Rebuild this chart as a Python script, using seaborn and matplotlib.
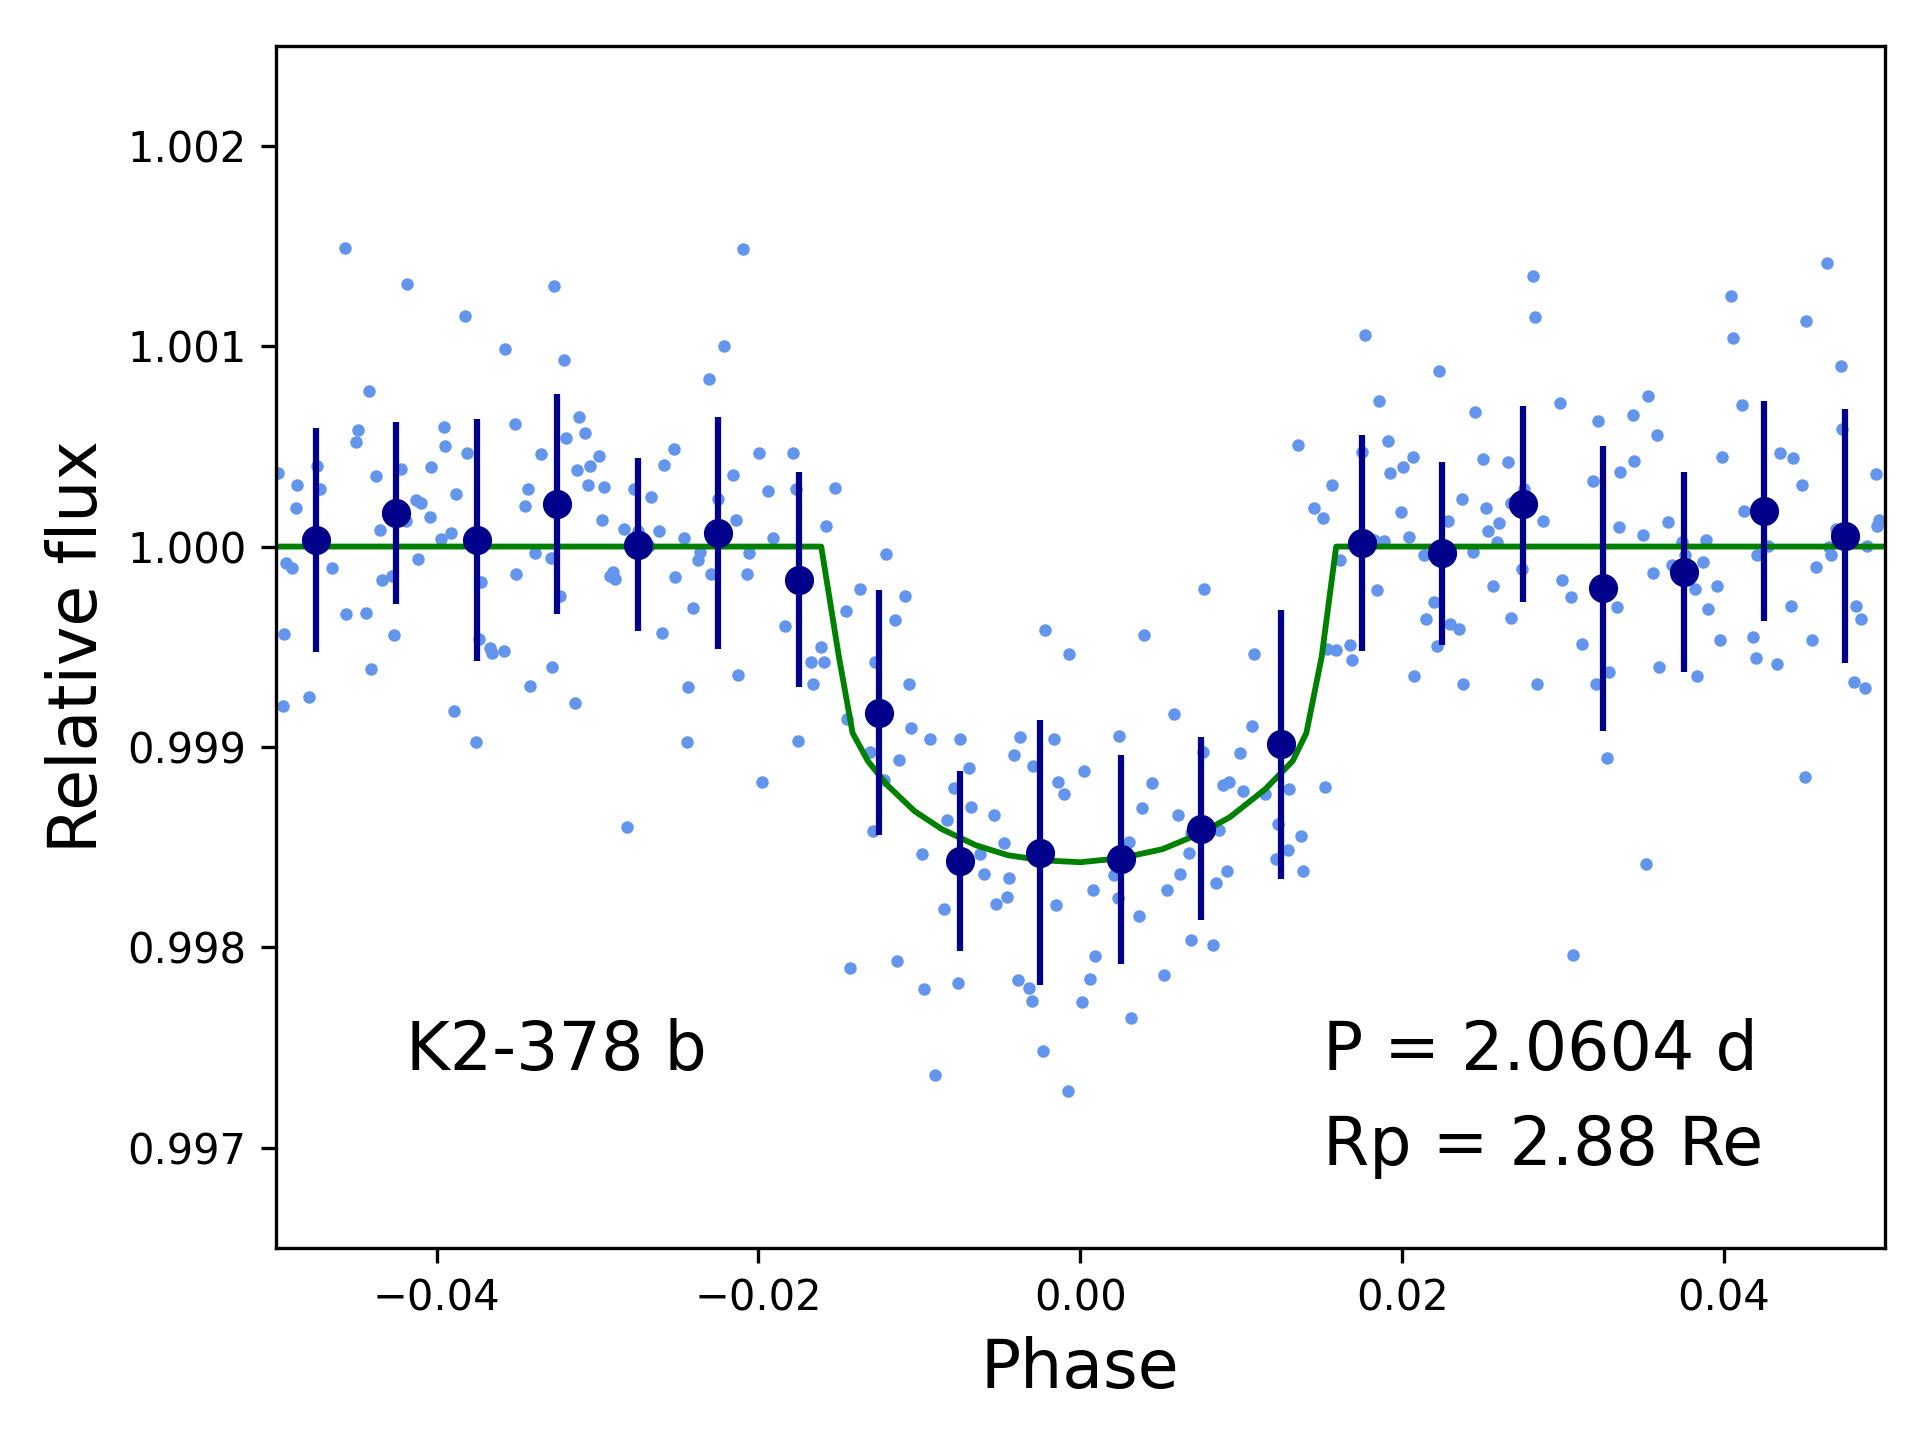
import numpy as np
import pandas as pd
import matplotlib
matplotlib.use("Agg")
import matplotlib.pyplot as plt
import seaborn as sns

# Pontos individuais (fase, fluxo relativo)
fase_pontos = [
    -0.04986, -0.04568, -0.04182, -0.03822, -0.03573, -0.04419, -0.04487, -0.04500, -0.04742, -0.04723,
    -0.04866, -0.04872, -0.04375, -0.04220, -0.04033, -0.03957, -0.03946, -0.03809, -0.03511, -0.03350,
    -0.03430, -0.03449, -0.03878, -0.04131, -0.04099, -0.04039, -0.04189, -0.04350, -0.03909, -0.03971,
    -0.04114, -0.04939, -0.04899, -0.04651, -0.04338, -0.04280, -0.03722, -0.03505, -0.03387, -0.04561,
    -0.04437, -0.04263, -0.04947, -0.03735, -0.03669, -0.03654, -0.03584, -0.04406, -0.04791, -0.04957,
    -0.03890, -0.03754, -0.03418,
    -0.03268, -0.03206, -0.02094, -0.02212, -0.02305, -0.03113, -0.03076, -0.03194, -0.02989, -0.03045,
    -0.03125, -0.03057, -0.02958, -0.02527, -0.02585, -0.02771, -0.02666, -0.02970, -0.02833, -0.02746,
    -0.02616, -0.02678, -0.02460, -0.02363, -0.02373, -0.03291, -0.03231, -0.02924, -0.02889, -0.02904,
    -0.02516, -0.02293, -0.02405, -0.02597, -0.03281, -0.03138, -0.02249, -0.02156, -0.02137, -0.02056,
    -0.02069, -0.01996, -0.01938, -0.01907, -0.01783, -0.01764, -0.01833, -0.02125, -0.02436, -0.02442,
    -0.01752, -0.01976, -0.02819,
    -0.01525, -0.01581, -0.01208, -0.01368, -0.01457, -0.01090, -0.01152, -0.01612, -0.01672, -0.01594,
    -0.01664, -0.01277, -0.01065, -0.01451, -0.01053, -0.01308, -0.01128, -0.01217, -0.00935, -0.00748,
    -0.01287, -0.00692, -0.00782, -0.00680, -0.00829, -0.00537, -0.00985, -0.00624, -0.00475, -0.00599,
    -0.00444, -0.00525, -0.00454, -0.00848, -0.00376, -0.00413, -0.00293, -0.00220, -0.00071, -0.00164,
    -0.00139, -0.00102, -0.00152, -0.01432, -0.01140, -0.00972, -0.00761, -0.00388, -0.00320, -0.00301,
    -0.00233, -0.00904, -0.00077,
    0.01352, 0.01563, 0.01451, 0.01509, 0.01611, 0.00768, 0.00395, 0.01078, 0.01532, 0.01590,
    0.00581, 0.01066, 0.00239, 0.00024, 0.00762, 0.00992, 0.00447, 0.00886, 0.00923, 0.01010,
    0.01147, 0.01294, 0.01520, 0.00382, 0.00606, 0.01230, 0.01371, 0.00302, 0.00677, 0.00685,
    0.00861, 0.01290, 0.01215, 0.01383, 0.00208, 0.00233, 0.00078, 0.00538, 0.00619, 0.00844,
    0.00911, 0.00364, 0.00687, 0.00824, 0.00090, 0.00059, 0.00012, 0.00519, 0.00314,
    0.01768, 0.02228, 0.01855, 0.01911, 0.01753, 0.01923, 0.02004, 0.02066, 0.01991, 0.02041,
    0.01888, 0.01826, 0.01842, 0.01677, 0.01689, 0.02072, 0.02134, 0.02197, 0.02147, 0.02215,
    0.02296, 0.02354, 0.02377, 0.02284, 0.02371, 0.02451, 0.02501, 0.02520, 0.02532, 0.02601,
    0.02588, 0.02439, 0.02563, 0.02656, 0.02756, 0.02679, 0.02743, 0.02675, 0.02812, 0.02824,
    0.02874, 0.02837, 0.02980, 0.02992, 0.03048, 0.03116, 0.03060, 0.03185, 0.03216, 0.03203,
    0.03284, 0.03272, 0.03334, 0.03348, 0.03355,
    0.03530, 0.03437, 0.03586, 0.03443, 0.03499, 0.03653, 0.03742, 0.03756, 0.03891, 0.03872,
    0.03677, 0.03561, 0.03822, 0.03959, 0.03901, 0.03978, 0.03599, 0.03835, 0.03518, 0.04046,
    0.04059, 0.04115, 0.03990, 0.04127, 0.04208, 0.04276, 0.04179, 0.04202, 0.04332, 0.04419,
    0.04351, 0.04431, 0.04487, 0.04512, 0.04643, 0.04730, 0.04736, 0.04550, 0.04574, 0.04506,
    0.04695, 0.04655, 0.04668, 0.04891, 0.04947, 0.04966, 0.04954, 0.04823, 0.04854, 0.04811,
    0.04879,
]
fluxo_pontos = [
    1.000367, 1.001489, 1.001310, 1.001150, 1.000987, 1.000778, 1.000584, 1.000523, 1.000401, 1.000287,
    1.000306, 1.000192, 1.000352, 1.000386, 1.000395, 1.000599, 1.000504, 1.000466, 1.000614, 1.000464,
    1.000287, 1.000202, 1.000260, 1.000232, 1.000217, 1.000146, 1.000129, 1.000084, 1.000068, 1.000036,
    0.999937, 0.999920, 0.999894, 0.999892, 0.999835, 0.999854, 0.999825, 0.999865, 0.999966, 0.999662,
    0.999671, 0.999561, 0.999565, 0.999540, 0.999496, 0.999468, 0.999481, 0.999388, 0.999247, 0.999207,
    0.999179, 0.999025, 0.999306,
    1.001298, 1.000932, 1.001483, 1.001002, 1.000837, 1.000648, 1.000565, 1.000540, 1.000451, 1.000401,
    1.000380, 1.000306, 1.000297, 1.000489, 1.000405, 1.000287, 1.000245, 1.000133, 1.000089, 1.000076,
    1.000078, 1.000004, 1.000044, 0.999973, 0.999932, 0.999943, 0.999755, 0.999852, 0.999838, 0.999871,
    0.999850, 0.999865, 0.999694, 0.999570, 0.999397, 0.999217, 1.000236, 1.000356, 1.000133, 0.999968,
    0.999865, 1.000466, 1.000276, 1.000044, 1.000466, 1.000287, 0.999606, 0.999361, 0.999297, 0.999025,
    0.999030, 0.998823, 0.998599,
    1.000291, 1.000101, 0.999961, 0.999787, 0.999678, 0.999754, 0.999634, 0.999499, 0.999424, 0.999424,
    0.999315, 0.999424, 0.999315, 0.999141, 0.999094, 0.998976, 0.998934, 0.998836, 0.999041, 0.999041,
    0.998582, 0.998895, 0.998794, 0.998702, 0.998635, 0.998660, 0.998467, 0.998467, 0.998523, 0.998364,
    0.998347, 0.998215, 0.998252, 0.998193, 0.999052, 0.998959, 0.998906, 0.999583, 0.999466, 0.999041,
    0.998825, 0.998766, 0.998213, 0.997899, 0.997930, 0.997793, 0.997821, 0.997838, 0.997799, 0.997734,
    0.997485, 0.997365, 0.997284,
    1.000509, 1.000308, 1.000190, 1.000143, 0.999933, 0.999787, 0.999558, 0.999463, 0.999488, 0.999483,
    0.999164, 0.999105, 0.999055, 0.998881, 0.998976, 0.998971, 0.998822, 0.998811, 0.998825, 0.998780,
    0.998766, 0.998792, 0.998800, 0.998697, 0.998660, 0.998615, 0.998557, 0.998526, 0.998473, 0.998571,
    0.998585, 0.998487, 0.998442, 0.998383, 0.998361, 0.998249, 0.998285, 0.998288, 0.998364, 0.998322,
    0.998383, 0.998159, 0.998039, 0.998011, 0.997955, 0.997843, 0.997729, 0.997863, 0.997648,
    1.001058, 1.000874, 1.000725, 1.000529, 1.000471, 1.000365, 1.000396, 1.000449, 1.000171, 1.000046,
    1.000029, 1.000034, 0.999783, 0.999510, 0.999435, 0.999355, 0.999957, 0.999722, 0.999638, 0.999502,
    0.999616, 0.999587, 0.999314, 1.000130, 1.000237, 1.000669, 1.000435, 1.000191, 1.000077, 1.000116,
    1.000024, 0.999971, 0.999802, 1.000420, 1.000285, 1.000217, 0.999886, 0.999643, 1.001348, 1.001143,
    1.000126, 0.999314, 1.000715, 0.999831, 0.999749, 0.999514, 0.997964, 1.000326, 1.000626, 0.999314,
    0.999374, 0.998944, 0.999698, 1.000097, 1.000370,
    1.000749, 1.000655, 1.000556, 1.000425, 1.000060, 1.000121, 1.000024, 0.999957, 1.000034, 0.999923,
    0.999908, 0.999867, 0.999787, 0.999802, 0.999688, 0.999534, 0.999399, 0.999355, 0.998418, 1.001251,
    1.001039, 1.000705, 1.000449, 1.000179, 0.999957, 1.000005, 0.999548, 0.999444, 0.999413, 0.999703,
    1.000466, 1.000444, 1.000307, 1.001123, 1.001413, 1.000899, 1.000585, 0.999534, 0.999896, 0.998850,
    1.000087, 1.000000, 0.999957, 1.000005, 1.000360, 1.000135, 1.000101, 0.999703, 0.999638, 0.999324,
    0.999295,
]

# Pontos agrupados (bins) com barras de erro
fase_bins = [-0.0475, -0.0425, -0.0375, -0.0325, -0.0275, -0.0225, -0.0175, -0.0125, -0.0075, -0.0025,
             0.0025, 0.0075, 0.0125, 0.0175, 0.0225, 0.0275, 0.0325, 0.0375, 0.0425, 0.0475]
fluxo_bins = [1.000032, 1.000167, 1.000032, 1.000213, 1.000010, 1.000067, 0.999835, 0.999172, 0.998431,
              0.998473, 0.998439, 0.998593, 0.999013, 1.000017, 0.999966, 1.000213, 0.999792, 0.999872,
              1.000179, 1.000051]
erro_bins = [0.000560, 0.000454, 0.000605, 0.000547, 0.000430, 0.000578, 0.000538, 0.000613, 0.000450,
             0.000660, 0.000520, 0.000457, 0.000670, 0.000540, 0.000455, 0.000490, 0.000710, 0.000500,
             0.000548, 0.000634]

# Modelo de trânsito (curva verde)
fase_modelo = [-0.0500, -0.0161, -0.0150, -0.01415, -0.0132, -0.0120, -0.0103, -0.0086, -0.0065, -0.0045,
               -0.0024, 0.0000, 0.0025, 0.0051, 0.0075, 0.0093, 0.0115, 0.0132, 0.01405, 0.0150,
               0.0159, 0.0500]
fluxo_modelo = [1.000000, 1.000000, 0.999450, 0.999070, 0.998930, 0.998810, 0.998680, 0.998590, 0.998510,
                0.998460, 0.998435, 0.998425, 0.998445, 0.998490, 0.998570, 0.998650, 0.998790, 0.998930,
                0.999070, 0.999450, 1.000000, 1.000000]

df_pontos = pd.DataFrame({'Fase': fase_pontos, 'Fluxo': fluxo_pontos})
df_modelo = pd.DataFrame({'Fase': fase_modelo, 'Fluxo': fluxo_modelo})

fig = plt.figure(figsize=(6.4, 4.8), dpi=300)
ax = fig.add_axes([0.1436, 0.1333, 0.8381, 0.8351])

sns.scatterplot(data=df_pontos, x='Fase', y='Fluxo', color='cornflowerblue', s=9,
                linewidth=0, ax=ax, zorder=1, legend=False)
sns.lineplot(data=df_modelo, x='Fase', y='Fluxo', color='green', linewidth=1.4,
             sort=False, ax=ax, zorder=2)
ax.errorbar(fase_bins, fluxo_bins, yerr=erro_bins, fmt='o', color='darkblue',
            markersize=6, elinewidth=1.5, capsize=0, zorder=3)

ax.set_xlim(-0.05, 0.05)
ax.set_ylim(0.9965, 1.0025)
ax.set_xticks([-0.04, -0.02, 0.00, 0.02, 0.04])
ax.set_yticks([0.997, 0.998, 0.999, 1.000, 1.001, 1.002])
ax.set_xlabel('Phase', fontsize=16)
ax.set_ylabel('Relative flux', fontsize=16)

ax.text(-0.0419, 0.997387, 'K2-378 b', fontsize=16, ha='left', va='baseline')
ax.text(0.01507, 0.997387, 'P = 2.0604 d', fontsize=16, ha='left', va='baseline')
ax.text(0.01507, 0.996915, 'Rp = 2.88 Re', fontsize=16, ha='left', va='baseline')

fig.savefig('out.png', dpi=300)
